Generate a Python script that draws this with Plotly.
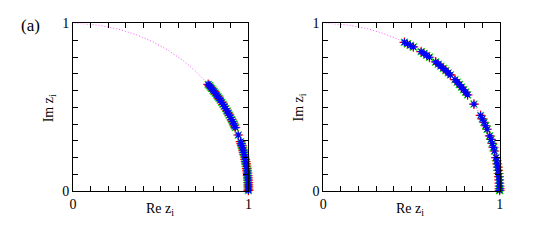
import numpy as np
import plotly.graph_objects as go

# phase angles (degrees) of the eigenvalues z_i
phase_left = [39.6, 39.0, 38.4, 37.8, 37.1, 36.5, 35.8, 35.0, 34.3, 33.6, 32.9, 32.0,
              31.2, 30.4, 29.5, 28.6, 27.8, 27.0, 26.1, 25.3, 24.5, 23.7, 23.0, 22.3,
              19.6,
              17.2, 16.5, 15.8, 15.0, 14.2, 13.4, 12.6, 11.8, 11.0, 10.2, 9.4, 8.6,
              7.8, 7.0, 6.2, 5.4, 4.6, 3.8, 3.0, 2.2, 1.5, 0.8, 0.3]
phase_right = [62.6, 61.5, 60.4, 59.3,
               56.3, 55.2, 54.1, 53.0,
               50.4, 49.3, 48.2, 47.1, 46.0, 44.9, 43.9,
               41.7, 40.6, 39.5, 38.4, 37.3, 36.2, 35.1,
               31.3,
               26.9, 25.6, 24.3, 23.0, 21.7,
               19.3, 18.0, 16.6, 15.2, 13.9,
               11.6, 10.5, 9.4, 8.3, 7.2, 6.1, 5.0, 3.9, 2.8, 1.8, 0.9, 0.3]

tick_vals = [0, 0.1, 0.2, 0.3, 0.4, 0.5, 0.6, 0.7, 0.8, 0.9, 1]
tick_text = ["0", "", "", "", "", "", "", "", "", "", "1"]

series = [
    dict(color="red", symbol="cross-thin-open", size=7),
    dict(color="#00dd00", symbol="x-thin-open", size=7),
    dict(color="blue", symbol="asterisk-open", size=6),
]

fig = go.Figure()
circ = np.linspace(0, np.pi / 2, 200)

panels = [(phase_left, "x", "y"), (phase_right, "x2", "y2")]
for phases, xa, ya in panels:
    fig.add_trace(go.Scatter(x=np.cos(circ), y=np.sin(circ), mode="lines",
                             line=dict(color="#ff55ff", width=1, dash="1px,2px"),
                             xaxis=xa, yaxis=ya, showlegend=False, hoverinfo="skip"))
    th = np.deg2rad(np.array(phases))
    for s in series:
        fig.add_trace(go.Scatter(x=np.cos(th), y=np.sin(th), mode="markers",
                                 marker=dict(color=s["color"], symbol=s["symbol"], size=s["size"],
                                             line=dict(width=1.2, color=s["color"])),
                                 xaxis=xa, yaxis=ya, showlegend=False, cliponaxis=False))

FAM = "Liberation Serif, Times New Roman, serif"
font = dict(family=FAM, size=14, color="black")
ax_common = dict(range=[0, 1], tickvals=tick_vals, ticktext=tick_text, ticks="inside",
                 ticklen=5, tickwidth=1, tickcolor="black", showline=True, linecolor="black",
                 linewidth=1, mirror="ticks", showgrid=False, zeroline=False,
                 tickfont=font, fixedrange=True)

# page has an 8px body margin; positions below are in page pixels
OFF = 8
W, H = 538, 242


def px(x):
    return (x - OFF) / W


def py(y):
    return 1 - (y - OFF) / H


def label(text, x, y, size=14, angle=0):
    return dict(text=text, x=px(x), y=py(y), xref="paper", yref="paper",
                xanchor="center", yanchor="middle", showarrow=False, textangle=angle,
                font=dict(family=FAM, size=size, color="black"))


yd = [py(196), py(17)]
fig.update_layout(
    width=W, height=H, margin=dict(l=0, r=0, t=0, b=0),
    plot_bgcolor="white", paper_bgcolor="white",
    font=font,
    xaxis=dict(domain=[px(70), px(248)], anchor="y", **ax_common),
    yaxis=dict(domain=yd, anchor="x", **ax_common),
    xaxis2=dict(domain=[px(324), px(503)], anchor="y2", **ax_common),
    yaxis2=dict(domain=yd, anchor="x2", **ax_common),
    annotations=[
        label("(a)", 27, 19, size=17),
        label("Re z<sub>i</sub>", 158, 215),
        label("Re z<sub>i</sub>", 412, 215),
        label("Im z<sub>i</sub>", 46, 107, angle=-90),
        label("Im z<sub>i</sub>", 300, 107, angle=-90),
    ],
)

fig.write_html("out.html")
